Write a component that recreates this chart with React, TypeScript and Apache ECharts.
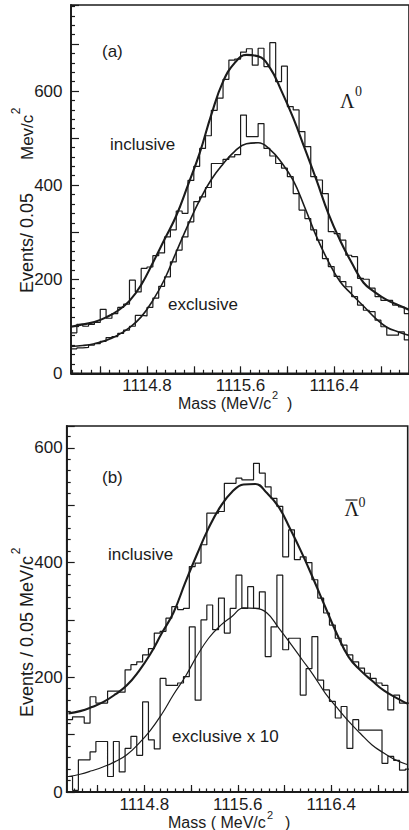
import React, { useEffect, useRef } from 'react';
import * as echarts from 'echarts';

// ---------- data ----------
// fitted-curve sample masses (MeV/c^2)
const FIT_MASS = [
  1114.15, 1114.25, 1114.35, 1114.45, 1114.55, 1114.65, 1114.75, 1114.85, 1114.95, 1115.05,
  1115.15, 1115.25, 1115.35, 1115.45, 1115.55, 1115.65, 1115.75, 1115.85, 1115.95, 1116.05,
  1116.15, 1116.25, 1116.35, 1116.45, 1116.55, 1116.65, 1116.75, 1116.85, 1116.95, 1117.05,
];
// panel (a) Lambda0 fits
const A_INCL_FIT = [99, 104, 109, 119, 133, 154, 188, 235, 285, 335, 400, 468, 550, 620, 660, 677, 674, 650, 600, 543, 477, 410, 340, 283, 235, 193, 172, 156, 145, 134];
const A_EXCL_FIT = [57, 59, 63, 70, 81, 97, 120, 155, 200, 258, 315, 368, 412, 445, 472, 488, 490, 476, 448, 410, 352, 290, 238, 195, 168, 143, 118, 98, 88, 80];
// panel (b) anti-Lambda0 fits
const B_INCL_FIT = [137, 141, 148, 157, 170, 186, 210, 240, 277, 313, 365, 414, 460, 497, 523, 536, 537, 521, 497, 458, 416, 370, 322, 275, 235, 212, 194, 177, 165, 154];
const B_EXCL_FIT = [27, 31, 37, 44, 53, 65, 84, 107, 136, 170, 201, 237, 268, 290, 306, 321, 320, 312, 286, 259, 231, 203, 172, 147, 123, 102, 82, 68, 56, 48];

// histogram bins (0.05 MeV wide)
const BIN_WIDTH = 0.05;
const A_BIN_START = 1114.15;
const B_BIN_START = 1114.135;
const A_INCL_HIST = [86, 104, 100, 104, 108, 136, 117, 127, 140, 147, 198, 173, 223, 226, 250, 256, 290, 305, 345, 340, 410, 440, 478, 505, 559, 585, 625, 666, 668, 683, 690, 655, 691, 652, 703, 620, 653, 567, 560, 514, 482, 418, 411, 382, 301, 297, 283, 251, 248, 202, 200, 181, 163, 155, 155, 145, 141, 127];
const A_EXCL_HIST = [52, 54, 55, 60, 63, 68, 76, 78, 85, 92, 100, 123, 122, 140, 160, 185, 205, 237, 262, 290, 322, 365, 375, 395, 446, 446, 455, 460, 465, 549, 503, 503, 531, 478, 462, 446, 436, 418, 382, 347, 329, 305, 283, 244, 227, 206, 195, 184, 163, 145, 134, 131, 113, 99, 81, 81, 88, 71];
const B_INCL_HIST = [126, 131, 131, 120, 166, 155, 155, 176, 176, 174, 213, 222, 227, 239, 250, 277, 280, 303, 323, 318, 320, 393, 399, 431, 486, 486, 489, 538, 538, 547, 544, 544, 573, 556, 532, 512, 498, 410, 457, 405, 410, 400, 370, 338, 312, 291, 268, 256, 239, 227, 216, 207, 198, 190, 186, 143, 169, 155, 155];
const B_EXCL_HIST = [27, 3, 56, 56, 70, 88, 88, 27, 88, 35, 76, 97, 64, 157, 91, 75, 198, 186, 186, 190, 201, 288, 160, 300, 326, 283, 338, 277, 320, 378, 320, 358, 320, 349, 236, 288, 378, 248, 268, 268, 169, 215, 271, 195, 178, 158, 129, 149, 76, 126, 108, 108, 108, 108, 50, 62, 55, 38, 40];

// axis ticks / labels
const X_MAJOR = [1114.4, 1114.8, 1115.2, 1115.6, 1116.0, 1116.4, 1116.8];
const X_LABELS = [1114.8, 1115.6, 1116.4];
const Y_LABELS = [0, 200, 400, 600];

// ---------- styling ----------
const INK = '#1b1b1b';
const SANS = '"Liberation Sans", Arial, Helvetica, sans-serif';
const SERIF = '"Liberation Serif", "DejaVu Serif", "Times New Roman", serif';

function histPoints(start: number, values: number[]) {
  const pts = values.map((v, i) => [start + i * BIN_WIDTH, v]);
  pts.push([start + values.length * BIN_WIDTH, values[values.length - 1]]);
  return pts;
}
function fitPoints(values: number[]) {
  return FIT_MASS.map((m, i) => [m, values[i]]);
}
function subTicks(min: number, max: number, div: number) {
  const step = (X_MAJOR[1] - X_MAJOR[0]) / div;
  const out: number[] = [];
  const n0 = Math.ceil((min - X_MAJOR[0]) / step - 1e-9);
  for (let n = n0; X_MAJOR[0] + n * step <= max + 1e-9; n++) {
    out.push(+(X_MAJOR[0] + n * step).toFixed(5));
  }
  return out;
}

const tickLine = { color: INK, width: 1.2 };

function xAxes(gridIndex: number, min: number, max: number, div: number, margin: number) {
  return [
    {
      type: 'value', gridIndex, min, max, position: 'bottom',
      axisLine: { show: true, lineStyle: { color: INK, width: 1.8 } },
      axisTick: { show: true, inside: true, length: 7, customValues: X_MAJOR, lineStyle: tickLine },
      axisLabel: {
        show: true, customValues: X_LABELS, formatter: (v: number) => v.toFixed(1),
        fontSize: 17, lineHeight: 13, color: INK, fontFamily: SANS, margin,
      },
      splitLine: { show: false },
    },
    {
      type: 'value', gridIndex, min, max, position: 'bottom',
      axisLine: { show: false },
      axisTick: { show: true, inside: true, length: 3.5, customValues: subTicks(min, max, div), lineStyle: tickLine },
      axisLabel: { show: false },
      splitLine: { show: false },
    },
  ];
}

function yAxis(gridIndex: number, max: number, margin: number) {
  return {
    type: 'value', gridIndex, min: 0, max, interval: 100,
    axisLine: { show: true, lineStyle: { color: INK, width: 1.8 } },
    axisTick: { show: true, inside: true, length: 8, lineStyle: tickLine },
    minorTick: { show: true, splitNumber: 5, length: 4, lineStyle: tickLine },
    axisLabel: {
      formatter: (v: number) => (Y_LABELS.includes(v) ? String(v) : ''),
      fontSize: 17, color: INK, fontFamily: SANS, margin,
    },
    splitLine: { show: false },
    minorSplitLine: { show: false },
  };
}

function histSeries(xi: number, yi: number, start: number, values: number[]) {
  return {
    type: 'line', xAxisIndex: xi, yAxisIndex: yi, step: 'end', symbol: 'none',
    data: histPoints(start, values), clip: true,
    lineStyle: { color: INK, width: 1.2 }, z: 3,
  };
}
function fitSeries(xi: number, yi: number, values: number[], width: number) {
  return {
    type: 'line', xAxisIndex: xi, yAxisIndex: yi, smooth: 0.45, symbol: 'none',
    data: fitPoints(values), clip: true,
    lineStyle: { color: INK, width }, z: 4,
  };
}

function txt(x: number, y: number, text: string, fontSize: number, extra: any = {}) {
  return {
    type: 'text', x, y, silent: true, rotation: extra.rotation || 0,
    style: {
      text, fill: INK, fontSize, fontFamily: extra.fontFamily || SANS,
      lineHeight: extra.lineHeight || fontSize,
      align: extra.align || 'left', verticalAlign: 'middle',
    },
  };
}

const ROT = Math.PI / 2;

const option: any = {
  animation: false,
  backgroundColor: '#ffffff',
  grid: [
    { left: 71, top: 5, width: 339, height: 368.3, show: true, borderColor: INK, borderWidth: 1.6 },
    { left: 66.7, top: 426, width: 341, height: 366, show: true, borderColor: INK, borderWidth: 1.6 },
  ],
  xAxis: [...xAxes(0, 1114.15, 1117.04, 5, 6), ...xAxes(1, 1114.135, 1117.055, 6, 6)],
  yAxis: [yAxis(0, 783, 8.5), yAxis(1, 638, 4)],
  series: [
    histSeries(0, 0, A_BIN_START, A_INCL_HIST),
    histSeries(0, 0, A_BIN_START, A_EXCL_HIST),
    fitSeries(0, 0, A_INCL_FIT, 2.1),
    fitSeries(0, 0, A_EXCL_FIT, 1.6),
    histSeries(2, 1, B_BIN_START, B_INCL_HIST),
    histSeries(2, 1, B_BIN_START, B_EXCL_HIST),
    fitSeries(2, 1, B_INCL_FIT, 2.1),
    fitSeries(2, 1, B_EXCL_FIT, 1.2),
  ],
  graphic: [
    // panel (a)
    txt(102, 51.5, '(a)', 17),
    txt(110, 144, 'inclusive', 17),
    txt(168, 304, 'exclusive', 17),
    txt(340, 101, 'Λ', 20, { fontFamily: SERIF }),
    txt(355, 91.5, '0', 14, { fontFamily: SERIF }),
    txt(178, 403, 'Mass (MeV/c', 16, { lineHeight: 12 }),
    txt(272, 394.5, '2', 11, { lineHeight: 9 }),
    txt(287, 403, ')', 16, { lineHeight: 12 }),
    txt(27, 293, 'Events/ 0.05', 18, { rotation: ROT }),
    txt(27, 160, 'Mev/c', 17, { rotation: ROT }),
    txt(16, 111, '2', 12, { rotation: ROT, align: 'center' }),
    // panel (b)
    txt(102, 477, '(b)', 17),
    txt(108, 554, 'inclusive', 17),
    txt(172, 736, 'exclusive x 10', 17),
    txt(344.5, 509, 'Λ', 20, { fontFamily: SERIF }),
    txt(358.5, 502, '0', 14, { fontFamily: SERIF }),
    { type: 'line', silent: true, shape: { x1: 345.5, y1: 500, x2: 357.5, y2: 500 }, style: { stroke: INK, lineWidth: 1.2 } },
    txt(168, 822.5, 'Mass ( MeV/c', 16, { lineHeight: 12 }),
    txt(267, 815, '2', 11, { lineHeight: 9 }),
    txt(285, 822.5, ')', 16, { lineHeight: 12 }),
    txt(27, 717, 'Events / 0.05 MeV/c', 18, { rotation: ROT }),
    txt(16, 551, '2', 12, { rotation: ROT, align: 'center' }),
  ],
};

export default function App() {
  const ref = useRef<HTMLDivElement>(null);
  useEffect(() => {
    if (!ref.current) return;
    const chart = echarts.init(ref.current, null, { renderer: 'svg' });
    chart.setOption(option);
    return () => chart.dispose();
  }, []);
  return (
    <div
      ref={ref}
      style={{ position: 'fixed', left: 0, top: 0, width: 409, height: 830, background: '#ffffff' }}
    />
  );
}
